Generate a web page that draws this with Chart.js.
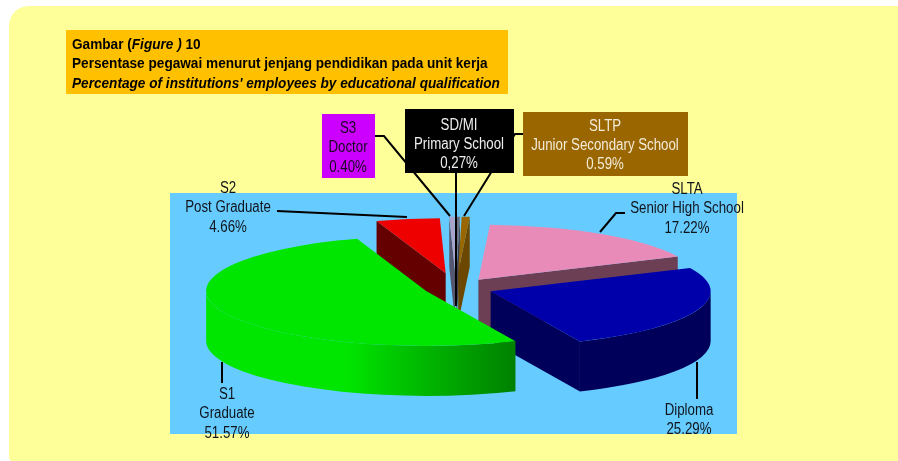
<!DOCTYPE html>
<html>
<head>
<meta charset="utf-8">
<script src="https://cdn.jsdelivr.net/npm/chart.js@4"></script>
<style>
  html, body { margin: 0; padding: 0; background: #fff; overflow: hidden; }
  canvas { display: block; }
</style>
</head>
<body>
<canvas id="educationPie" width="898" height="461"></canvas>
<script>
"use strict";

// values, listed so the big slice is painted last
var categories = ["S2", "S3", "SD/MI", "SLTP", "SLTA", "Diploma", "S1"];
var percentages = [4.66, 0.40, 0.27, 0.59, 17.22, 25.29, 51.57];

var sliceColors = ["#ee0000", "#a9a3c9", "#6d7186", "#996600", "#e98bb8", "#0000aa", "#00e600"];
var wallColors = ["#640000", "#55566f", "#3d4050", "#6b4700", "#6d3f55", "#00005a", "#008000"];
var sliceOffsets = [60, 65, 65, 65, 40, 37, 32];

var tilt = 0.25;
var wallHeight = 50;

// [x, y, w, h, fill, text colour, centre x, first line centre y, line gap, lines]
var boxes = [
    [322, 114, 53, 64, "#cc00ff", "#1a0a22", 348, 127, 19.5, ["S3", "Doctor", "0.40%"]],
    [405, 109, 109, 64, "#000000", "#eeeeee", 459, 124, 19, ["SD/MI", "Primary School", "0,27%"]],
    [523, 112, 165, 64, "#996600", "#f3ecd8", 605, 125, 19, ["SLTP", "Junior Secondary School", "0.59%"]]
];
var freeLabels = [
    [228, 187, 19.5, ["S2", "Post Graduate", "4.66%"]],
    [687, 188, 19.5, ["SLTA", "Senior High School", "17.22%"]],
    [689, 409, 19, ["Diploma", "25.29%"]],
    [227, 393, 19.5, ["S1", "Graduate", "51.57%"]]
];
var leaders = [
    [2, [[277, 211], [407, 217]]],
    [2, [[222, 362], [222, 383]]],
    [2, [[697, 362], [697, 399]]],
    [2, [[625, 213], [616, 213], [600, 232]]],
    [2, [[375, 136], [384, 136], [450, 216]]],
    [2, [[523, 134], [515, 134], [464, 216]]],
    [2, [[456, 173], [456, 306]]]
];

function condensedText(ctx, text, x, y, squeeze) {
    ctx.fillText(text, x, y, ctx.measureText(text).width * squeeze);
}

function drawLines(ctx, lines, cx, cy, gap) {
    ctx.font = "16px 'Liberation Sans', Arial, sans-serif";
    ctx.textAlign = "center";
    ctx.textBaseline = "middle";
    for (var i = 0; i < lines.length; i++) {
        condensedText(ctx, lines[i], cx, cy + 1.5 + i * gap, 0.83);
    }
}

// parts of [start, end] that lie on the near half of the ellipse
function frontRanges(start, end) {
    var ranges = [];
    for (var k = -1; k <= 2; k++) {
        var a = Math.max(start, k * 2 * Math.PI);
        var b = Math.min(end, k * 2 * Math.PI + Math.PI);
        if (b > a) {
            ranges.push([a, b]);
        }
    }
    return ranges;
}

function drawSideWall(ctx, cx, cy, r, angle) {
    var ex = cx + Math.cos(angle) * r;
    var ey = cy + Math.sin(angle) * r * tilt;
    ctx.beginPath();
    ctx.moveTo(cx, cy);
    ctx.lineTo(ex, ey);
    ctx.lineTo(ex, ey + wallHeight);
    ctx.lineTo(cx, cy + wallHeight);
    ctx.closePath();
    ctx.fill();
}

var panelPlugin = {
    id: "panel",
    beforeDraw: function (chart) {
        var ctx = chart.ctx;
        ctx.save();
        ctx.fillStyle = "#ffff99";
        ctx.beginPath();
        ctx.roundRect(9, 6, 920, 455, [20, 0, 0, 4]);
        ctx.fill();
        ctx.fillStyle = "#66ccff";
        ctx.fillRect(170, 193, 567, 241);
        ctx.restore();
    }
};

var solidPiePlugin = {
    id: "solidPie",
    beforeDatasetsDraw: function (chart) {
        var ctx = chart.ctx;
        var arcs = chart.getDatasetMeta(0).data;
        var lastIndex = arcs.length - 1;

        arcs.forEach(function (arc, i) {
            var p = arc.getProps(["x", "y", "startAngle", "endAngle", "outerRadius"], true);
            var mid = (p.startAngle + p.endAngle) / 2;
            var off = arc.options.offset;
            var cx = p.x + Math.cos(mid) * off;
            var cy = p.y + Math.sin(mid) * off * tilt;
            var r = p.outerRadius;

            ctx.save();
            ctx.fillStyle = wallColors[i];
            if (Math.cos(p.startAngle) < 0) {
                drawSideWall(ctx, cx, cy, r, p.startAngle);
            }
            if (Math.cos(p.endAngle) > 0) {
                drawSideWall(ctx, cx, cy, r, p.endAngle);
            }

            // the green rim fades to dark towards the right
            if (i === lastIndex) {
                var grad = ctx.createLinearGradient(206, 0, 516, 0);
                grad.addColorStop(0, sliceColors[i]);
                grad.addColorStop(0.45, sliceColors[i]);
                grad.addColorStop(1, wallColors[i]);
                ctx.fillStyle = grad;
            }
            frontRanges(p.startAngle, p.endAngle).forEach(function (range) {
                ctx.beginPath();
                ctx.ellipse(cx, cy, r, r * tilt, 0, range[0], range[1]);
                ctx.ellipse(cx, cy + wallHeight, r, r * tilt, 0, range[1], range[0], true);
                ctx.closePath();
                ctx.fill();
            });

            ctx.fillStyle = arc.options.backgroundColor;
            ctx.beginPath();
            ctx.moveTo(cx, cy);
            ctx.ellipse(cx, cy, r, r * tilt, 0, p.startAngle, p.endAngle);
            ctx.closePath();
            ctx.fill();
            ctx.restore();
        });
        return false;
    }
};

var labelPlugin = {
    id: "callouts",
    afterDraw: function (chart) {
        var ctx = chart.ctx;
        ctx.save();

        ctx.strokeStyle = "#000000";
        leaders.forEach(function (l) {
            ctx.lineWidth = l[0];
            ctx.beginPath();
            l[1].forEach(function (pt, i) {
                if (i === 0) {
                    ctx.moveTo(pt[0], pt[1]);
                } else {
                    ctx.lineTo(pt[0], pt[1]);
                }
            });
            ctx.stroke();
        });

        boxes.forEach(function (b) {
            ctx.fillStyle = b[4];
            ctx.fillRect(b[0], b[1], b[2], b[3]);
            ctx.fillStyle = b[5];
            drawLines(ctx, b[9], b[6], b[7], b[8]);
        });

        ctx.fillStyle = "#10141c";
        freeLabels.forEach(function (f) {
            drawLines(ctx, f[3], f[0], f[1], f[2]);
        });

        // heading box
        ctx.fillStyle = "#ffc000";
        ctx.fillRect(66, 30, 442, 64);
        ctx.fillStyle = "#000000";
        ctx.textAlign = "left";
        ctx.textBaseline = "alphabetic";
        var x = 72;
        [["Gambar (", "bold"], ["Figure )", "italic bold"], [" 10", "bold"]].forEach(function (run) {
            ctx.font = run[1] + " 14px 'Liberation Sans', Arial, sans-serif";
            condensedText(ctx, run[0], x, 49, 0.973);
            x += ctx.measureText(run[0]).width * 0.973;
        });
        ctx.font = "bold 14px 'Liberation Sans', Arial, sans-serif";
        condensedText(ctx, "Persentase pegawai menurut jenjang pendidikan pada unit kerja", 72, 68, 0.973);
        ctx.font = "italic bold 14px 'Liberation Sans', Arial, sans-serif";
        condensedText(ctx, "Percentage of institutions' employees by educational qualification", 72, 88, 0.973);

        ctx.restore();
    }
};

var myPie = new Chart(document.getElementById("educationPie"), {
    type: "pie",
    data: {
        labels: categories,
        datasets: [{
            data: percentages,
            backgroundColor: sliceColors,
            offset: sliceOffsets,
            borderWidth: 0
        }]
    },
    options: {
        responsive: false,
        animation: false,
        radius: 220,
        rotation: 341.7,
        layout: { padding: { left: 14, top: 115 } },
        plugins: {
            legend: { display: false },
            title: { display: false },
            tooltip: { enabled: false }
        }
    },
    plugins: [panelPlugin, solidPiePlugin, labelPlugin]
});
</script>
</body>
</html>
